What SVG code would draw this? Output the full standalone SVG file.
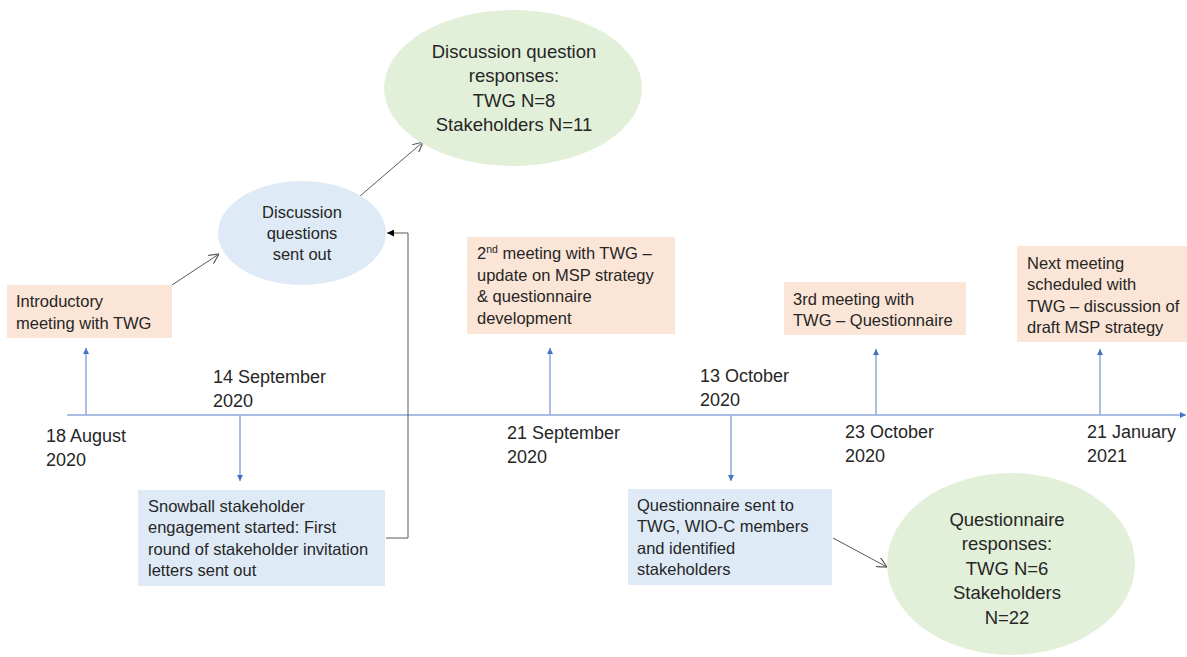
<svg xmlns="http://www.w3.org/2000/svg" width="1187" height="657" viewBox="0 0 1187 657">
  <style>
    text { font-family: "Liberation Sans", Arial, sans-serif; fill: #262626; }
    .box { font-size: 16.5px; }
    .date { font-size: 18px; }
    .big { font-size: 18.5px; text-anchor: middle; }
    .mid { font-size: 16.5px; text-anchor: middle; }
    .peach { fill: #FBE5D6; }
    .blue { fill: #DEEBF7; }
    .green { fill: #E2F0D9; }
    .tick { stroke: #8EA9DB; stroke-width: 1.5; fill: none; }
    .link { stroke: #595959; stroke-width: 1; fill: none; }
  </style>
  <defs>
    <marker id="tickHead" viewBox="0 0 10 10" refX="10" refY="5" markerWidth="6" markerHeight="6" markerUnits="userSpaceOnUse" orient="auto">
      <path d="M0,0 L10,5 L0,10 Z" fill="#4472C4"/>
    </marker>
    <marker id="openHead" viewBox="0 0 10 10" refX="10" refY="5" markerWidth="10" markerHeight="10" markerUnits="userSpaceOnUse" orient="auto">
      <path d="M0,0 L10,5 L0,10" fill="none" stroke="#595959" stroke-width="1.2"/>
    </marker>
    <marker id="solidHead" viewBox="0 0 10 10" refX="10" refY="5" markerWidth="7" markerHeight="7" markerUnits="userSpaceOnUse" orient="auto">
      <path d="M0,0 L10,5 L0,10 Z" fill="#000"/>
    </marker>
  </defs>

  <!-- timeline axis and date ticks -->
  <g id="connectors">
    <line class="tick" x1="67" y1="415" x2="1186" y2="415" marker-end="url(#tickHead)"/>
    <line class="tick" x1="86" y1="415" x2="86" y2="348" marker-end="url(#tickHead)"/>
    <line class="tick" x1="240" y1="415" x2="240" y2="481" marker-end="url(#tickHead)"/>
    <line class="tick" x1="550" y1="415" x2="550" y2="348" marker-end="url(#tickHead)"/>
    <line class="tick" x1="731" y1="415" x2="731" y2="481" marker-end="url(#tickHead)"/>
    <line class="tick" x1="876" y1="415" x2="876" y2="349" marker-end="url(#tickHead)"/>
    <line class="tick" x1="1100" y1="415" x2="1100" y2="349" marker-end="url(#tickHead)"/>
    <line class="link" x1="172" y1="285" x2="219" y2="254" marker-end="url(#openHead)"/>
    <line class="link" x1="360" y1="196" x2="423" y2="142" marker-end="url(#openHead)"/>
    <polyline class="link" points="386,538 408,538 408,233 387,233" marker-end="url(#solidHead)"/>
    <line class="link" x1="833" y1="538" x2="887" y2="567" marker-end="url(#openHead)"/>
  </g>

  <!-- date labels -->
  <g id="dates" class="date">
    <text x="46" y="442">18 August</text>
    <text x="46" y="466">2020</text>
    <text x="213" y="383">14 September</text>
    <text x="213" y="407">2020</text>
    <text x="507" y="439">21 September</text>
    <text x="507" y="463">2020</text>
    <text x="700" y="382">13 October</text>
    <text x="700" y="406">2020</text>
    <text x="845" y="438">23 October</text>
    <text x="845" y="462">2020</text>
    <text x="1087" y="438">21 January</text>
    <text x="1087" y="462">2021</text>
  </g>

  <g id="intro-meeting">
    <rect class="peach" x="7" y="285" width="165" height="53"/>
    <text class="box" x="16" y="307">Introductory</text>
    <text class="box" x="16" y="329">meeting with TWG</text>
  </g>

  <g id="questions-sent">
    <ellipse class="blue" cx="302" cy="233" rx="84" ry="52"/>
    <text class="mid" x="302" y="218">Discussion</text>
    <text class="mid" x="302" y="239">questions</text>
    <text class="mid" x="302" y="260">sent out</text>
  </g>

  <g id="discussion-responses">
    <ellipse class="green" cx="513" cy="88" rx="129" ry="78"/>
    <text class="big" x="514" y="58">Discussion question</text>
    <text class="big" x="514" y="82">responses:</text>
    <text class="big" x="514" y="107">TWG N=8</text>
    <text class="big" x="514" y="131">Stakeholders N=11</text>
  </g>

  <g id="snowball">
    <rect class="blue" x="138" y="490" width="247" height="96"/>
    <text class="box" x="148" y="512">Snowball stakeholder</text>
    <text class="box" x="148" y="533">engagement started: First</text>
    <text class="box" x="148" y="555">round of stakeholder invitation</text>
    <text class="box" x="148" y="576">letters sent out</text>
  </g>

  <g id="second-meeting">
    <rect class="peach" x="467" y="237" width="208" height="97"/>
    <text class="box" x="477" y="259">2<tspan font-size="10.5px" dy="-6">nd</tspan><tspan dy="6"> meeting with TWG –</tspan></text>
    <text class="box" x="477" y="281">update on MSP strategy</text>
    <text class="box" x="477" y="302">&amp; questionnaire</text>
    <text class="box" x="477" y="324">development</text>
  </g>

  <g id="questionnaire-sent">
    <rect class="blue" x="628" y="489" width="204" height="96"/>
    <text class="box" x="637" y="511">Questionnaire sent to</text>
    <text class="box" x="637" y="532">TWG, WIO-C members</text>
    <text class="box" x="637" y="554">and identified</text>
    <text class="box" x="637" y="575">stakeholders</text>
  </g>

  <g id="third-meeting">
    <rect class="peach" x="784" y="282" width="182" height="53"/>
    <text class="box" x="793" y="305">3rd meeting with</text>
    <text class="box" x="793" y="326">TWG – Questionnaire</text>
  </g>

  <g id="next-meeting">
    <rect class="peach" x="1017" y="246" width="170" height="96"/>
    <text class="box" x="1027" y="269">Next meeting</text>
    <text class="box" x="1027" y="290">scheduled with</text>
    <text class="box" x="1027" y="312">TWG – discussion of</text>
    <text class="box" x="1027" y="333">draft MSP strategy</text>
  </g>

  <g id="questionnaire-responses">
    <ellipse class="green" cx="1011" cy="564" rx="124" ry="91"/>
    <text class="big" x="1007" y="526">Questionnaire</text>
    <text class="big" x="1007" y="550">responses:</text>
    <text class="big" x="1007" y="575">TWG N=6</text>
    <text class="big" x="1007" y="599">Stakeholders</text>
    <text class="big" x="1007" y="624">N=22</text>
  </g>
</svg>
